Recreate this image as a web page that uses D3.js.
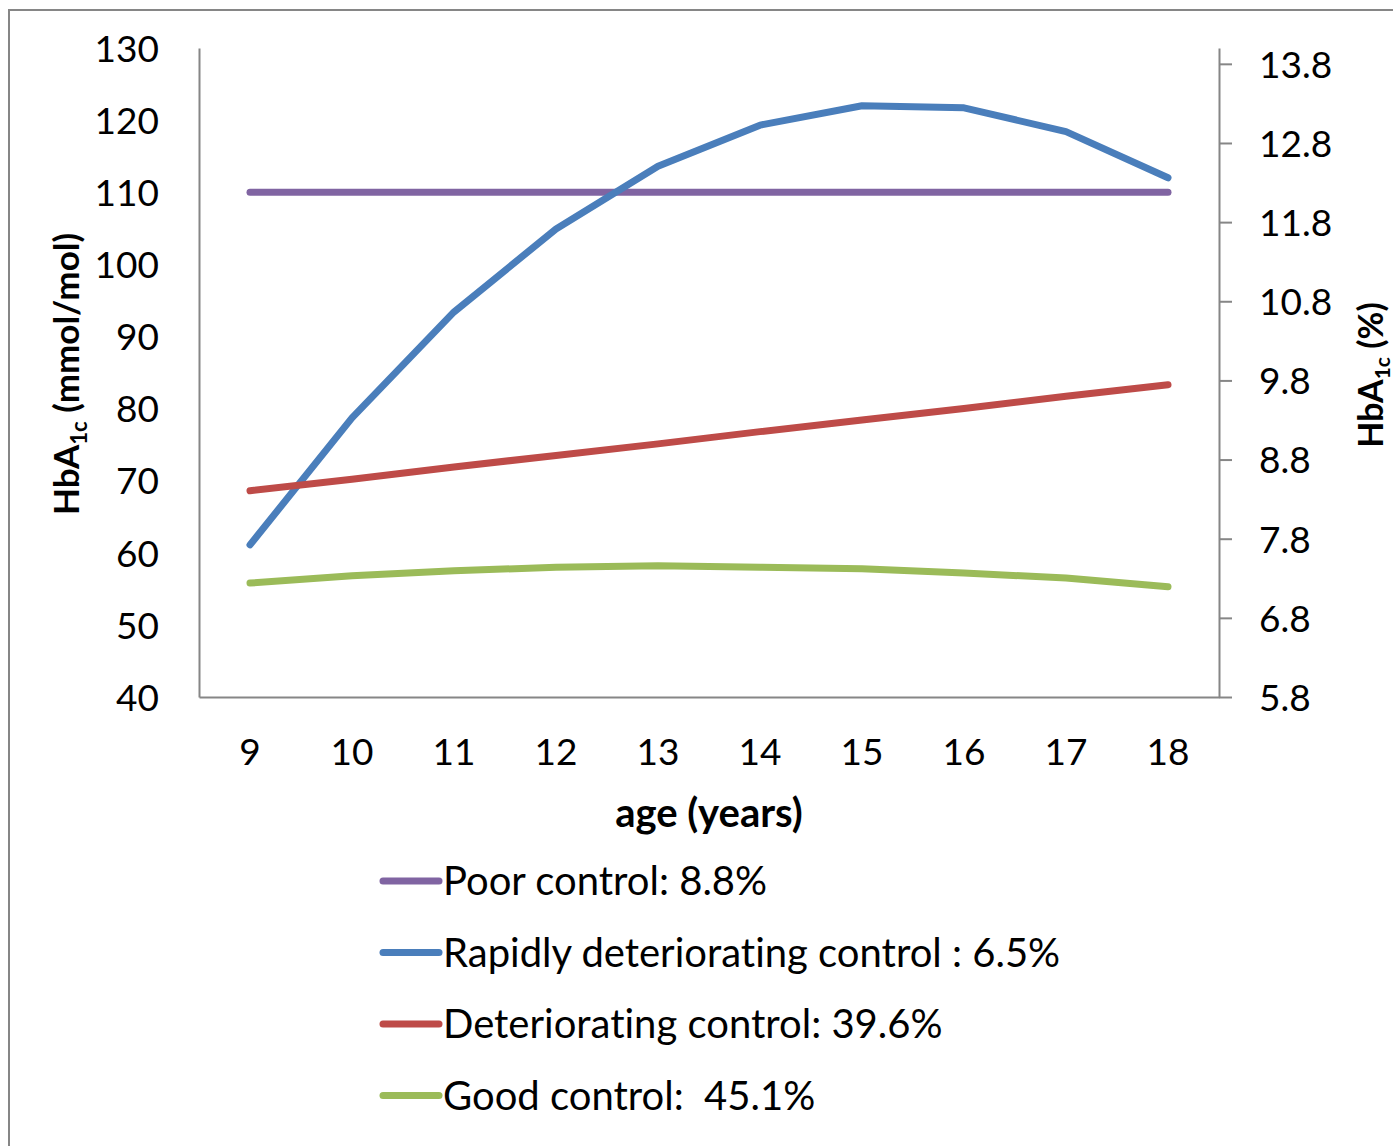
<!DOCTYPE html>
<html>
<head>
<meta charset="utf-8">
<script src="https://cdn.jsdelivr.net/npm/d3@7"></script>
<style>
  body { margin: 0; background: #fff; }
  svg text { font-family: Lato, "Open Sans", sans-serif; fill: #000; white-space: pre; font-variant-ligatures: none; }
</style>
</head>
<body>
<div id="chart"></div>
<script>
// ages on the x axis
const ages = [9, 10, 11, 12, 13, 14, 15, 16, 17, 18];

// HbA1c (mmol/mol) per trajectory group
const poorControl = [110, 110, 110, 110, 110, 110, 110, 110, 110, 110];
const rapidControl = [61.1, 78.7, 93.4, 104.9, 113.6, 119.3, 122.0, 121.7, 118.4, 112.0];
const deterioratingControl = [68.6, 70.2, 71.9, 73.5, 75.1, 76.8, 78.4, 80.0, 81.7, 83.3];
const goodControl = [55.8, 56.8, 57.5, 58.0, 58.2, 58.0, 57.8, 57.2, 56.5, 55.3];

const seriesNames = ["Poor control: 8.8%", "Rapidly deteriorating control : 6.5%",
  "Deteriorating control: 39.6%", "Good control:  45.1%"];
const seriesColors = ["#8064A2", "#4A7EBB", "#BE4B48", "#9BBB59"];

const leftTicks = [40, 50, 60, 70, 80, 90, 100, 110, 120, 130];
const rightTicks = [5.8, 6.8, 7.8, 8.8, 9.8, 10.8, 11.8, 12.8, 13.8];

const series = [poorControl, rapidControl, deterioratingControl, goodControl];

const W = 1393, H = 1146;
const plot = { left: 199, right: 1219, top: 48, bottom: 697 };

const svg = d3.select("#chart").append("svg")
  .attr("width", W)
  .attr("height", H);

// outer chart border (only top and left visible in the crop)
svg.append("rect")
  .attr("x", 9).attr("y", 10)
  .attr("width", W + 20).attr("height", H + 20)
  .attr("fill", "none")
  .attr("stroke", "#868686")
  .attr("stroke-width", 2);

// scales
const x = d3.scaleBand().domain(ages).range([plot.left, plot.right]);
const yLeft = d3.scaleLinear().domain([40, 130]).range([plot.bottom, plot.top]);
const yRight = d3.scaleLinear().domain([5.8, 14.0]).range([plot.bottom, plot.top]);

const axisColor = "#868686";

// left axis (no tick marks)
const gl = svg.append("g")
  .attr("transform", "translate(" + plot.left + ",0)")
  .call(d3.axisLeft(yLeft).tickValues(leftTicks).tickSize(0).tickPadding(40).tickSizeOuter(0));
gl.select(".domain").attr("stroke", axisColor).attr("stroke-width", 2);
gl.selectAll("text").style("font-size", "37px").attr("dy", "0.36em");

// right axis
const gr = svg.append("g")
  .attr("transform", "translate(" + plot.right + ",0)")
  .call(d3.axisRight(yRight).tickValues(rightTicks).tickSize(13).tickPadding(27).tickSizeOuter(0)
    .tickFormat(d3.format(".1f")));
gr.select(".domain").attr("stroke", axisColor).attr("stroke-width", 2);
gr.selectAll(".tick line").attr("stroke", axisColor).attr("stroke-width", 2);
gr.selectAll("text").style("font-size", "37px").attr("dy", "0.36em");

// bottom axis
const gb = svg.append("g")
  .attr("transform", "translate(0," + plot.bottom + ")")
  .call(d3.axisBottom(x).tickSize(0).tickPadding(42).tickSizeOuter(0));
gb.select(".domain").attr("stroke", axisColor).attr("stroke-width", 2);
gb.selectAll("text").style("font-size", "37px");

// axis titles
svg.append("text")
  .attr("x", 709).attr("y", 827)
  .attr("text-anchor", "middle")
  .style("font-size", "40px").style("font-weight", "bold")
  .text("age (years)");

const leftTitle = svg.append("text")
  .attr("transform", "translate(79,374) rotate(-90)")
  .attr("text-anchor", "middle")
  .style("font-size", "35px").style("font-weight", "bold");
leftTitle.append("tspan").text("HbA");
leftTitle.append("tspan").attr("dy", 8).style("font-size", "22px").text("1c");
leftTitle.append("tspan").attr("dy", -8).text(" (mmol/mol)");

const rightTitle = svg.append("text")
  .attr("transform", "translate(1383,375) rotate(-90)")
  .attr("text-anchor", "middle")
  .style("font-size", "34px").style("font-weight", "bold");
rightTitle.append("tspan").text("HbA");
rightTitle.append("tspan").attr("dy", 7).style("font-size", "21px").text("1c");
rightTitle.append("tspan").attr("dy", -7).text(" (%)");

// lines
const line = d3.line()
  .x((d, i) => x(ages[i]) + x.bandwidth() / 2)
  .y(d => yLeft(d));

svg.selectAll(".series")
  .data(series)
  .enter()
  .append("path")
  .attr("class", "series")
  .attr("d", line)
  .attr("fill", "none")
  .attr("stroke", (d, i) => seriesColors[i])
  .attr("stroke-width", 7)
  .attr("stroke-linecap", "round")
  .attr("stroke-linejoin", "round");

// legend
const legend = svg.selectAll(".legend")
  .data(seriesNames)
  .enter()
  .append("g")
  .attr("class", "legend")
  .attr("transform", (d, i) => "translate(383," + (881 + i * 71.5) + ")");

legend.append("line")
  .attr("x1", 0).attr("x2", 56)
  .attr("stroke", (d, i) => seriesColors[i])
  .attr("stroke-width", 7)
  .attr("stroke-linecap", "round");

legend.append("text")
  .attr("x", 60).attr("y", 14)
  .style("font-size", "40px")
  .text(d => d);
</script>
</body>
</html>
